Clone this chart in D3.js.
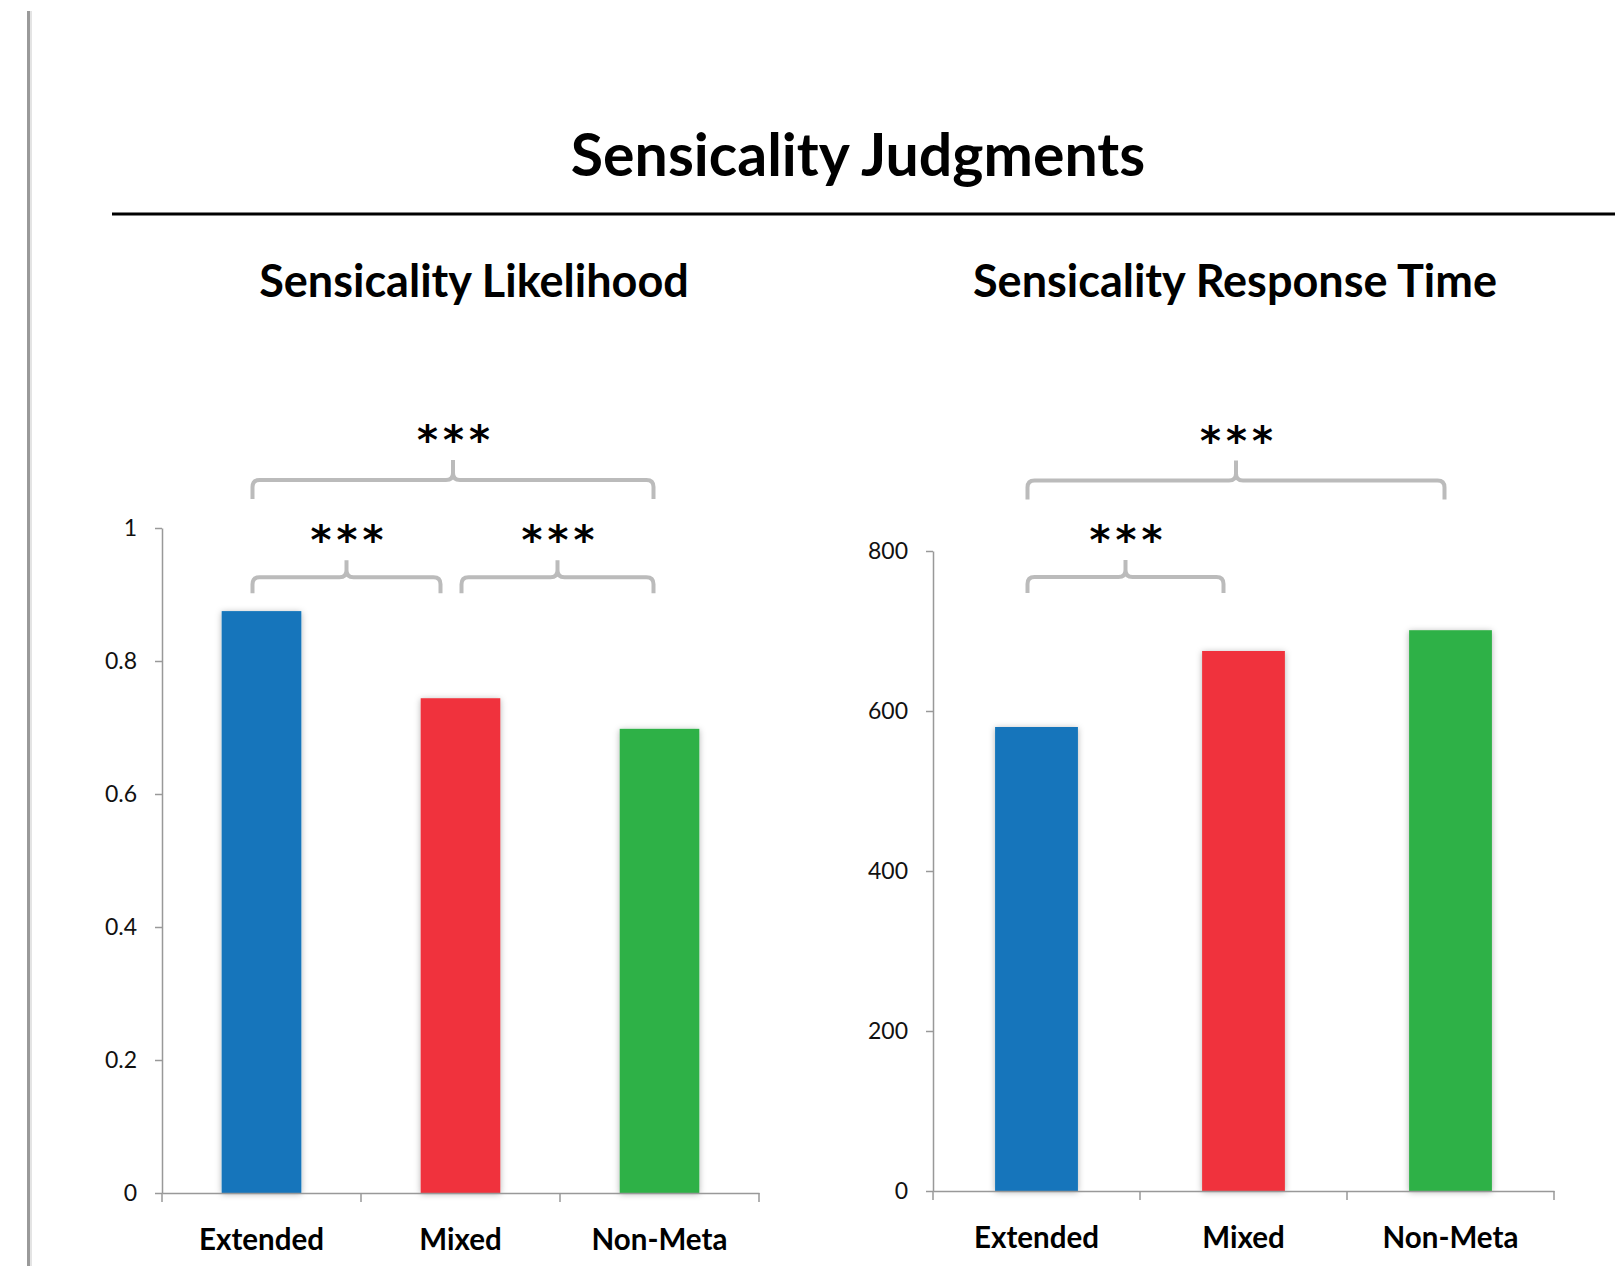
<!DOCTYPE html>
<html>
<head>
<meta charset="utf-8">
<script src="https://cdn.jsdelivr.net/npm/d3@7"></script>
<style>
  body { margin: 0; background: #fff; }
  svg { display: block; }
</style>
</head>
<body>
<div id="container"></div>
<script>
/* CONSTANTS AND GLOBALS */
const width = 1615,
  height = 1266;

/* DATA */
const categories = ["Extended", "Mixed", "Non-Meta"];
const barColors = ["#1375BB", "#F0333C", "#2EB146"];

const likelihoodValues = [0.875, 0.744, 0.698];
const likelihoodTicks = [0, 0.2, 0.4, 0.6, 0.8, 1];

const responseTimeValues = [580, 675, 701];
const responseTimeTicks = [0, 200, 400, 600, 800];

// significance brackets: which two bars, and at what level (in axis units)
const likelihoodBrackets = [
  { from: "Extended", to: "Non-Meta", level: 1.072, label: "***" },
  { from: "Extended", to: "Mixed", level: 0.926, label: "***" },
  { from: "Mixed", to: "Non-Meta", level: 0.926, label: "***" }
];
const responseTimeBrackets = [
  { from: "Extended", to: "Non-Meta", level: 888, label: "***" },
  { from: "Extended", to: "Mixed", level: 767.5, label: "***" }
];

const svg = d3.select("#container")
  .append("svg")
  .attr("width", width)
  .attr("height", height);

// soft shadow like the office chart
const defs = svg.append("defs");
defs.append("filter")
  .attr("id", "shadow")
  .attr("x", "-30%").attr("y", "-10%")
  .attr("width", "160%").attr("height", "120%")
  .append("feDropShadow")
  .attr("dx", 0).attr("dy", 1)
  .attr("stdDeviation", 3)
  .attr("flood-color", "#000")
  .attr("flood-opacity", 0.3);

/* PAGE FRAME */
svg.append("rect")
  .attr("x", 27).attr("y", 11)
  .attr("width", 3).attr("height", height - 11)
  .attr("fill", "#9a9a9a");
svg.append("rect")
  .attr("x", 30).attr("y", 11)
  .attr("width", 2).attr("height", height - 11)
  .attr("fill", "#e4e4e4");

svg.append("text")
  .attr("x", 858).attr("y", 176)
  .attr("text-anchor", "middle")
  .style("font-family", "Lato, 'Open Sans', sans-serif")
  .style("font-weight", "bold")
  .style("font-size", "59px")
  .text("Sensicality Judgments");

svg.append("line")
  .attr("x1", 112).attr("x2", width)
  .attr("y1", 214).attr("y2", 214)
  .attr("stroke", "#000")
  .attr("stroke-width", 3);

/* DRAW ONE PANEL */
function drawPanel(opt) {
  const g = svg.append("g");

  const xScale = d3.scaleBand()
    .domain(categories)
    .range(opt.xRange)
    .paddingInner(0.6)
    .paddingOuter(0.3);

  const yScale = d3.scaleLinear()
    .domain([0, d3.max(opt.ticks)])
    .range(opt.yRange);

  // subtitle
  g.append("text")
    .attr("x", opt.titleX).attr("y", 297)
    .attr("text-anchor", "middle")
    .style("font-family", "Lato, 'Open Sans', sans-serif")
    .style("font-weight", "bold")
    .style("font-size", "45px")
    .text(opt.title);

  // y axis
  const yAxis = d3.axisLeft(yScale)
    .tickValues(opt.ticks)
    .tickFormat(d => d)
    .tickSize(7)
    .tickSizeOuter(0)
    .tickPadding(18);

  const yG = g.append("g")
    .attr("transform", `translate(${opt.xRange[0]}, 0)`)
    .call(yAxis);
  yG.selectAll("path, line").attr("stroke", "#999").attr("stroke-width", 1.5);
  yG.selectAll("text")
    .style("font-family", "Lato, sans-serif")
    .style("font-size", "23px")
    .attr("fill", "#111");

  // bars
  g.selectAll(".bar")
    .data(opt.values)
    .join("rect")
    .attr("class", "bar")
    .attr("x", (d, i) => xScale(categories[i]))
    .attr("y", d => yScale(d))
    .attr("width", xScale.bandwidth())
    .attr("height", d => yScale(0) - yScale(d))
    .attr("fill", (d, i) => barColors[i])
    .attr("filter", "url(#shadow)");

  // x axis: labels at band centres, ticks on band edges
  const xAxis = d3.axisBottom(xScale).tickSize(0).tickPadding(36);
  const xG = g.append("g")
    .attr("transform", `translate(0, ${yScale(0)})`)
    .call(xAxis);
  xG.select(".domain").attr("stroke", "#999").attr("stroke-width", 1.5);
  xG.selectAll("text")
    .style("font-family", "Lato, sans-serif")
    .style("font-weight", "bold")
    .style("font-size", "29.5px")
    .attr("fill", "#000");

  xG.selectAll(".edge")
    .data(d3.range(categories.length + 1))
    .join("line")
    .attr("class", "edge")
    .attr("x1", i => opt.xRange[0] + i * xScale.step())
    .attr("x2", i => opt.xRange[0] + i * xScale.step())
    .attr("y1", 0).attr("y2", 9)
    .attr("stroke", "#999")
    .attr("stroke-width", 1.5);

  // significance brackets
  const centre = c => xScale(c) + xScale.bandwidth() / 2;
  const last = categories.length - 1;
  const r = 7;
  opt.brackets.forEach(b => {
    const i1 = categories.indexOf(b.from),
      i2 = categories.indexOf(b.to),
      wide = i2 - i1 > 1;
    // ends on inner bars are pulled in so neighbouring brackets do not touch
    const x1 = centre(b.from) - 9 + (i1 > 0 ? 10 : 0),
      x2 = centre(b.to) - 6 - (i2 < last ? 14 : 0),
      xm = (x1 + x2) / 2,
      y = yScale(b.level),
      drop = wide ? 19 : 16,
      tip = wide ? 20 : 17;
    const p = d3.path();
    p.moveTo(x1, y + drop);
    p.lineTo(x1, y + r);
    p.quadraticCurveTo(x1, y, x1 + r, y);
    p.lineTo(xm - r, y);
    p.quadraticCurveTo(xm, y, xm, y - r);
    p.lineTo(xm, y - tip);
    p.moveTo(xm, y - r);
    p.quadraticCurveTo(xm, y, xm + r, y);
    p.lineTo(x2 - r, y);
    p.quadraticCurveTo(x2, y, x2, y + r);
    p.lineTo(x2, y + drop);

    g.append("path")
      .attr("d", p.toString())
      .attr("fill", "none")
      .attr("stroke", "#bbbbbb")
      .attr("stroke-width", 4);

    g.append("text")
      .attr("x", xm + 3)
      .attr("y", y - tip - 6)
      .attr("text-anchor", "middle")
      .style("font-family", "'DejaVu Sans', sans-serif")
      .style("font-weight", "bold")
      .style("font-size", "40px")
      .style("letter-spacing", "5px")
      .text(b.label);
  });
}

drawPanel({
  title: "Sensicality Likelihood",
  titleX: 474,
  values: likelihoodValues,
  ticks: likelihoodTicks,
  brackets: likelihoodBrackets,
  xRange: [162, 759],
  yRange: [1193, 528]
});

drawPanel({
  title: "Sensicality Response Time",
  titleX: 1235,
  values: responseTimeValues,
  ticks: responseTimeTicks,
  brackets: responseTimeBrackets,
  xRange: [933, 1554],
  yRange: [1191, 551]
});
</script>
</body>
</html>
